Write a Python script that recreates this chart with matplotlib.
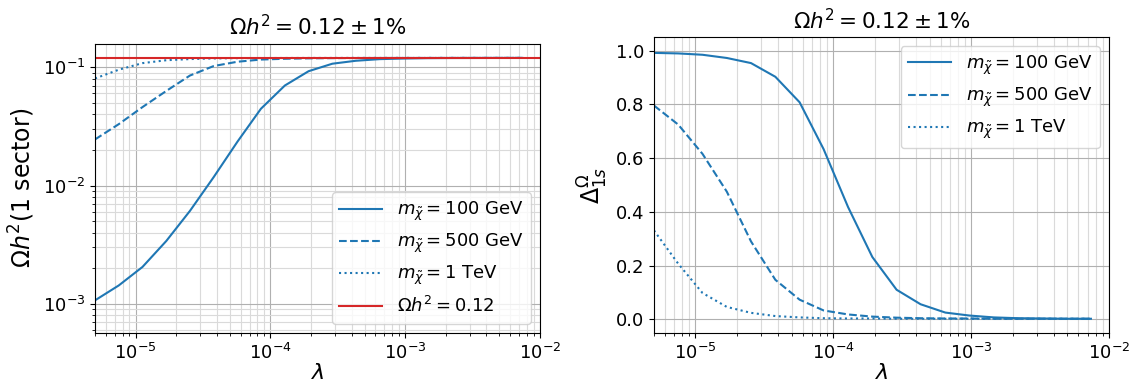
import matplotlib
matplotlib.use('Agg')
import matplotlib.pyplot as plt

# coupling values (same grid for every curve)
lam = [5.0e-6, 7.5e-6, 1.125e-5, 1.69e-5, 2.53e-5, 3.8e-5, 5.7e-5, 8.5e-5,
       1.28e-4, 1.92e-4, 2.88e-4, 4.3e-4, 6.5e-4, 9.7e-4, 1.46e-3, 2.19e-3,
       3.28e-3, 4.92e-3, 7.4e-3]

# relic abundance, one sector
omega_100 = [1.07e-3, 1.43e-3, 2.05e-3, 3.4e-3, 6.1e-3, 1.18e-2, 2.35e-2, 4.45e-2,
             7.0e-2, 9.25e-2, 0.107, 0.1133, 0.117, 0.1183, 0.1192, 0.1195,
             0.1196, 0.1197, 0.1197]
omega_500 = [0.0245, 0.033, 0.046, 0.063, 0.085, 0.1023, 0.1112, 0.116,
             0.1178, 0.1188, 0.1193, 0.1195, 0.1196, 0.1197, 0.1197, 0.1198,
             0.1198, 0.1198, 0.1198]
omega_1000 = [0.0803, 0.0952, 0.1082, 0.1145, 0.1171, 0.1186, 0.1192, 0.1195,
              0.1196, 0.1197, 0.1197, 0.1198, 0.1198, 0.1198, 0.1198, 0.1198,
              0.1198, 0.1198, 0.1198]
omega_target = 0.12

# Delta_1s
delta_100 = [0.992, 0.990, 0.985, 0.973, 0.954, 0.903, 0.808, 0.634, 0.418,
             0.232, 0.110, 0.056, 0.025, 0.014, 0.007, 0.004, 0.003, 0.002, 0.002]
delta_500 = [0.796, 0.725, 0.616, 0.475, 0.29, 0.147, 0.073, 0.033, 0.018,
             0.010, 0.006, 0.004, 0.003, 0.003, 0.002, 0.002, 0.002, 0.002, 0.002]
delta_1000 = [0.331, 0.207, 0.098, 0.046, 0.024, 0.012, 0.007, 0.004, 0.003,
              0.003, 0.002, 0.002, 0.002, 0.002, 0.002, 0.002, 0.002, 0.002, 0.002]

labels = [r'$m_{\tilde{\chi}} = 100$ GeV', r'$m_{\tilde{\chi}} = 500$ GeV',
          r'$m_{\tilde{\chi}} = 1$ TeV']
styles = ['-', '--', ':']
blue = '#1f77b4'

fig = plt.figure(figsize=(11.31, 3.85), dpi=100)
ax1 = fig.add_axes([0.0840, 0.1358, 0.3935, 0.7499])
ax2 = fig.add_axes([0.5782, 0.1358, 0.4023, 0.7673])

# left panel
for y, ls, lab in zip([omega_100, omega_500, omega_1000], styles, labels):
    ax1.plot(lam, y, ls, color=blue, lw=1.5, label=lab)
ax1.axhline(omega_target, color='#d62728', lw=1.5, label=r'$\Omega h^2 = 0.12$')
ax1.set_xscale('log')
ax1.set_yscale('log')
ax1.set_xlim(5e-6, 1e-2)
ax1.set_ylim(5.7e-4, 0.157)
ax1.grid(which='major', color='#b0b0b0', lw=0.8)
ax1.grid(which='minor', color='#dadada', lw=0.8)
ax1.set_xlabel(r'$\lambda$', fontsize=16, labelpad=0)
ax1.set_ylabel(r'$\Omega h^2$(1 sector)', fontsize=17)
ax1.set_title(r'$\Omega h^2 = 0.12 \pm 1\%$', fontsize=15.5)
ax1.tick_params(labelsize=13)
ax1.legend(loc='lower right', fontsize=13, handlelength=2.4)

# right panel
for y, ls, lab in zip([delta_100, delta_500, delta_1000], styles, labels):
    ax2.plot(lam, y, ls, color=blue, lw=1.5, label=lab)
ax2.set_xscale('log')
ax2.set_xlim(5e-6, 1e-2)
ax2.set_ylim(-0.05, 1.05)
ax2.grid(which='major', color='#b0b0b0', lw=0.8)
ax2.grid(which='minor', axis='x', color='#dadada', lw=0.8)
ax2.set_xlabel(r'$\lambda$', fontsize=16, labelpad=0)
ax2.set_ylabel(r'$\Delta^{\Omega}_{1s}$', fontsize=17)
ax2.set_title(r'$\Omega h^2 = 0.12 \pm 1\%$', fontsize=15.5)
ax2.tick_params(labelsize=13)
ax2.legend(loc='upper right', fontsize=13, handlelength=2.4)

fig.savefig('out.png', dpi=100)
